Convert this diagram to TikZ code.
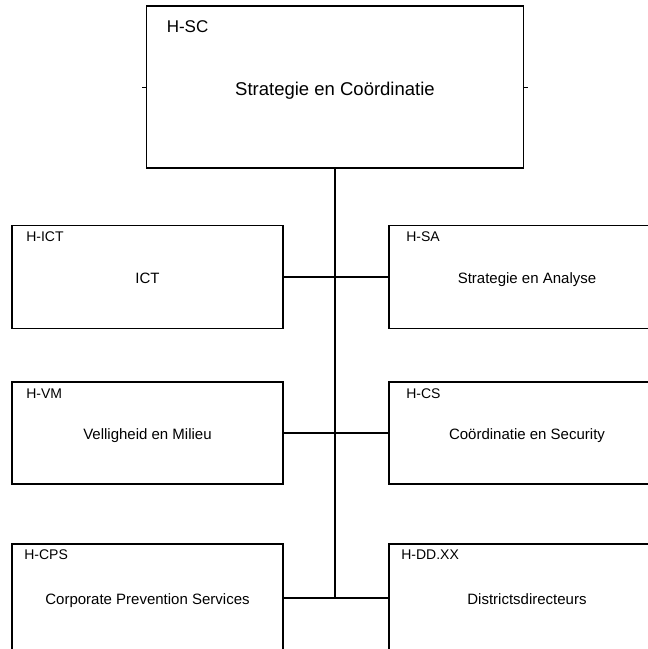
\documentclass[tikz,border=0pt]{standalone}
\usepackage{fontspec}
\setmainfont{Liberation Sans}
\begin{document}
\begin{tikzpicture}[x=1pt,y=-1pt,
  unit/.style={draw, line width=1.8pt, inner sep=0pt, align=center,
    text height=15.5pt, text depth=3pt,
    font=\fontsize{15}{18}\selectfont},
  sidebox/.style={unit, minimum width=271pt},
  rightbox/.style={unit, minimum width=276pt},
  code/.style={anchor=base west, inner sep=0pt, font=\fontsize{14}{16}\selectfont},
  link/.style={line width=1.8pt}]
\useasboundingbox (0,0) rectangle (648,649);
\clip (0,0) rectangle (648,649);

% head of the organisation
\node[unit, minimum width=377pt, minimum height=162pt,
      text height=21.5pt, text depth=4pt,
      font=\fontsize{18.5}{21}\selectfont] (sc) at (335,87) {Strategie en Co\"ordinatie};
\node[code, font=\fontsize{17}{20}\selectfont] (sclbl) at ([shift={(21,27)}]sc.north west) {H-SC};
\draw[line width=1pt] (sc.west) -- ++(-4,0);
\draw[line width=1pt] (sc.east) -- ++(4,0);

% departments, left column
\node[sidebox, minimum height=103pt] (ict) at (147.5,277) {ICT};
\node[sidebox, minimum height=102pt] (vm) at (147.5,433) {Velligheid en Milieu};
\node[sidebox, minimum height=108pt] (cps) at (147.5,598) {Corporate Prevention Services};

% departments, right column
\node[rightbox, minimum height=103pt] (sa) at (527,277) {Strategie en Analyse};
\node[rightbox, minimum height=102pt] (cs) at (527,433) {Co\"ordinatie en Security};
\node[rightbox, minimum height=108pt] (dd) at (527,598) {Districtsdirecteurs};

% codes in the top left corners
\node[code] (ictlbl) at ([shift={(15,17)}]ict.north west) {H-ICT};
\node[code] (vmlbl)  at ([shift={(15,17)}]vm.north west)  {H-VM};
\node[code] (cpslbl) at ([shift={(13,16)}]cps.north west) {H-CPS};
\node[code] (salbl)  at ([shift={(18,17)}]sa.north west)  {H-SA};
\node[code] (cslbl)  at ([shift={(18,17)}]cs.north west)  {H-CS};
\node[code] (ddlbl)  at ([shift={(13,16)}]dd.north west)  {H-DD.XX};

% reporting lines
\coordinate (foot) at (sc.south |- cps.east);
\draw[link] (sc.south) -- (foot);
\draw[link] (ict.east) -- (sa.west);
\draw[link] (vm.east) -- (cs.west);
\draw[link] (cps.east) -- (dd.west);
\end{tikzpicture}
\end{document}
